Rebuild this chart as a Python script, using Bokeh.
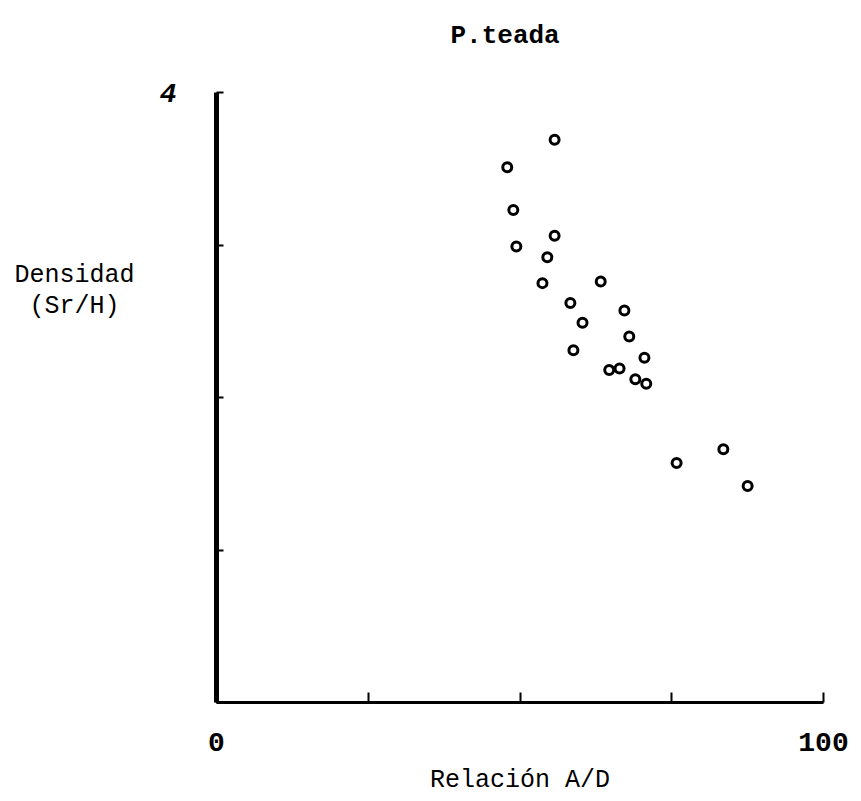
from bokeh.plotting import figure
from bokeh.models import Range1d, FixedTicker, LinearAxis, Title
from bokeh.embed import file_html
from bokeh.resources import INLINE

# Data (Relación A/D vs Densidad Sr/H)
relacion_ad = [55.7, 47.9, 48.9, 55.7, 49.4, 54.5, 53.7, 63.3, 58.3, 67.2, 60.3,
               68.0, 58.8, 70.5, 64.7, 66.4, 69.0, 70.8, 75.8, 83.5, 87.5]
densidad = [3.69, 3.51, 3.23, 3.06, 2.99, 2.92, 2.75, 2.76, 2.62, 2.57, 2.49,
            2.40, 2.31, 2.26, 2.18, 2.19, 2.12, 2.09, 1.57, 1.66, 1.42]

x_ticks = [0, 25, 50, 75, 100]
x_tick_labels = {0: "0", 25: "", 50: "", 75: "", 100: "100"}
y_ticks = [0, 1, 2, 3, 4]
y_tick_labels = {0: "", 1: "", 2: "", 3: "", 4: "4"}

title_text = "P.teada"
x_title = "Relación A/D"
y_title = ["Densidad", "(Sr/H)\u00a0"]

mono = "Liberation Mono"

p = figure(width=861, height=801, output_backend="svg", toolbar_location=None,
           x_range=Range1d(0, 100), y_range=Range1d(0, 4),
           min_border_left=216, min_border_right=38, min_border_top=92,
           min_border_bottom=99)
p.outline_line_color = None
p.grid.visible = False
p.background_fill_color = "white"
p.border_fill_color = "white"

# a trailing blank line lifts the title text within its panel
p.title = Title(text=title_text + "\n", align="left", offset=234, standoff=24,
                text_font=mono, text_font_style="bold", text_font_size="26px",
                text_line_height=1.0, text_color="black")

xa = p.xaxis[0]
xa.ticker = FixedTicker(ticks=x_ticks)
xa.major_label_overrides = x_tick_labels
xa.axis_line_width = 3
xa.axis_line_color = "black"
xa.major_tick_in = 10
xa.major_tick_out = 0
xa.major_tick_line_width = 2
xa.minor_tick_line_color = None
xa.major_label_standoff = 30
xa.major_label_text_font = mono
xa.major_label_text_font_style = "bold"
xa.major_label_text_font_size = "28px"
xa.major_label_text_color = "black"

ya = p.yaxis[0]
ya.ticker = FixedTicker(ticks=y_ticks)
ya.major_label_overrides = y_tick_labels
ya.axis_line_width = 5
ya.axis_line_color = "black"
ya.major_tick_in = 7
ya.major_tick_out = 0
ya.major_tick_line_width = 2
ya.minor_tick_line_color = None
ya.major_label_standoff = 40
ya.major_label_text_font = mono
ya.major_label_text_font_style = "bold italic"
ya.major_label_text_font_size = "28px"
ya.major_label_text_color = "black"


def label_axis(axis, text, standoff, horizontal=False):
    axis.ticker = FixedTicker(ticks=[])
    axis.axis_line_color = None
    axis.major_tick_line_color = None
    axis.minor_tick_line_color = None
    axis.major_label_text_font_size = "0px"
    axis.axis_label = text
    axis.axis_label_standoff = standoff
    axis.axis_label_text_font = mono
    axis.axis_label_text_font_style = "normal"
    axis.axis_label_text_font_size = "25px"
    axis.axis_label_text_color = "black"
    axis.axis_label_text_line_height = 1.05
    if horizontal:
        if hasattr(axis, "axis_label_orientation"):
            axis.axis_label_orientation = "horizontal"
        axis.axis_label_text_align = "center"
    return axis


x_lab = label_axis(LinearAxis(), x_title, 12)
p.add_layout(x_lab, "below")
# trailing blank lines lift the two-line label towards its place in the reference
y_lab = label_axis(LinearAxis(), "\n".join(y_title) + "\n" * 7, 22, horizontal=True)
p.add_layout(y_lab, "left")

p.scatter(relacion_ad, densidad, marker="circle", size=9,
          fill_color="white", line_color="black", line_width=3)

open("out.html", "w").write(file_html(p, INLINE))
